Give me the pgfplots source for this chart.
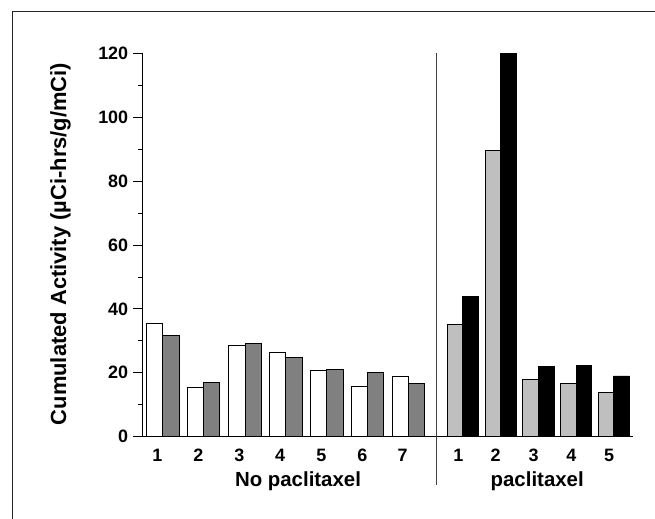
\documentclass[border=0pt]{standalone}
\usepackage{fontspec}
\setmainfont{Liberation Sans}
\usepackage{pgfplots}
\pgfplotsset{compat=1.18}
\begin{document}
\begin{tikzpicture}
\useasboundingbox (0bp,0bp) rectangle (655bp,519bp);
\draw[line width=1.3bp, black!85] (12.3bp,507.3bp) rectangle (700bp,-50bp);
\begin{axis}[
  scale only axis, width=490.6bp, height=383.4bp,
  at={(142.7bp,82.3bp)}, anchor=south west,
  xmin=142.7, xmax=633.3, ymin=0, ymax=120,
  axis x line=bottom, axis y line=left,
  axis line style={-, line width=1bp},
  clip=false,
  ytick={0,20,...,120}, minor ytick={10,30,...,110},
  tick align=outside, major tick length=9.5bp, minor tick length=5bp,
  tick style={black, line width=0.8bp},
  xtick={157.3,198.3,239.3,280,321.3,362.3,402.7,458.3,495.7,533.7,571.3,609},
  xticklabels={1,2,3,4,5,6,7,1,2,3,4,5},
  x tick style={draw=none},
  ticklabel style={font=\fontsize{18}{20}\selectfont\bfseries},
  yticklabel style={xshift=-1.5bp},
  xticklabel style={yshift=0.5bp},
  /pgf/number format/assume math mode=true,
]
\addplot[ybar, bar width=16.4, bar shift=0pt, fill=white, draw=black, line width=0.8bp]
  coordinates {(154.5,35.5) (195.1,15.5) (236.8,28.7) (277.5,26.4) (318.5,20.8) (359.1,15.6) (400.1,18.9)};
\addplot[ybar, bar width=16.4, bar shift=0pt, fill=black!50, draw=black, line width=0.8bp]
  coordinates {(170.9,31.6) (211.5,17.0) (253.2,29.3) (293.9,24.7) (334.9,21.0) (375.5,20.0) (416.5,16.7)};
\addplot[ybar, bar width=15.6, bar shift=0pt, fill=black!25, draw=black, line width=0.8bp]
  coordinates {(454.9,35.1) (492.9,89.6) (530.5,17.8) (568.2,16.6) (605.9,13.9)};
\addplot[ybar, bar width=15.6, bar shift=0pt, fill=black, draw=black, line width=0.8bp]
  coordinates {(470.5,43.9) (508.5,120) (546.1,22.1) (583.8,22.4) (621.5,19.0)};
\draw[line width=1bp, black!75] (axis cs:436.7,120) -- (axis cs:436.7,-15.1);
\node[anchor=base, font=\fontsize{20.5}{22}\selectfont\bfseries] at (axis cs:298,-15.65) {No paclitaxel};
\node[anchor=base, font=\fontsize{20.5}{22}\selectfont\bfseries] at (axis cs:537.2,-15.65) {paclitaxel};
\node[rotate=90, anchor=base, font=\fontsize{22}{24}\selectfont\bfseries] at (axis cs:66,60.3) {Cumulated Activity (µCi-hrs/g/mCi)};
\end{axis}
\end{tikzpicture}
\end{document}
